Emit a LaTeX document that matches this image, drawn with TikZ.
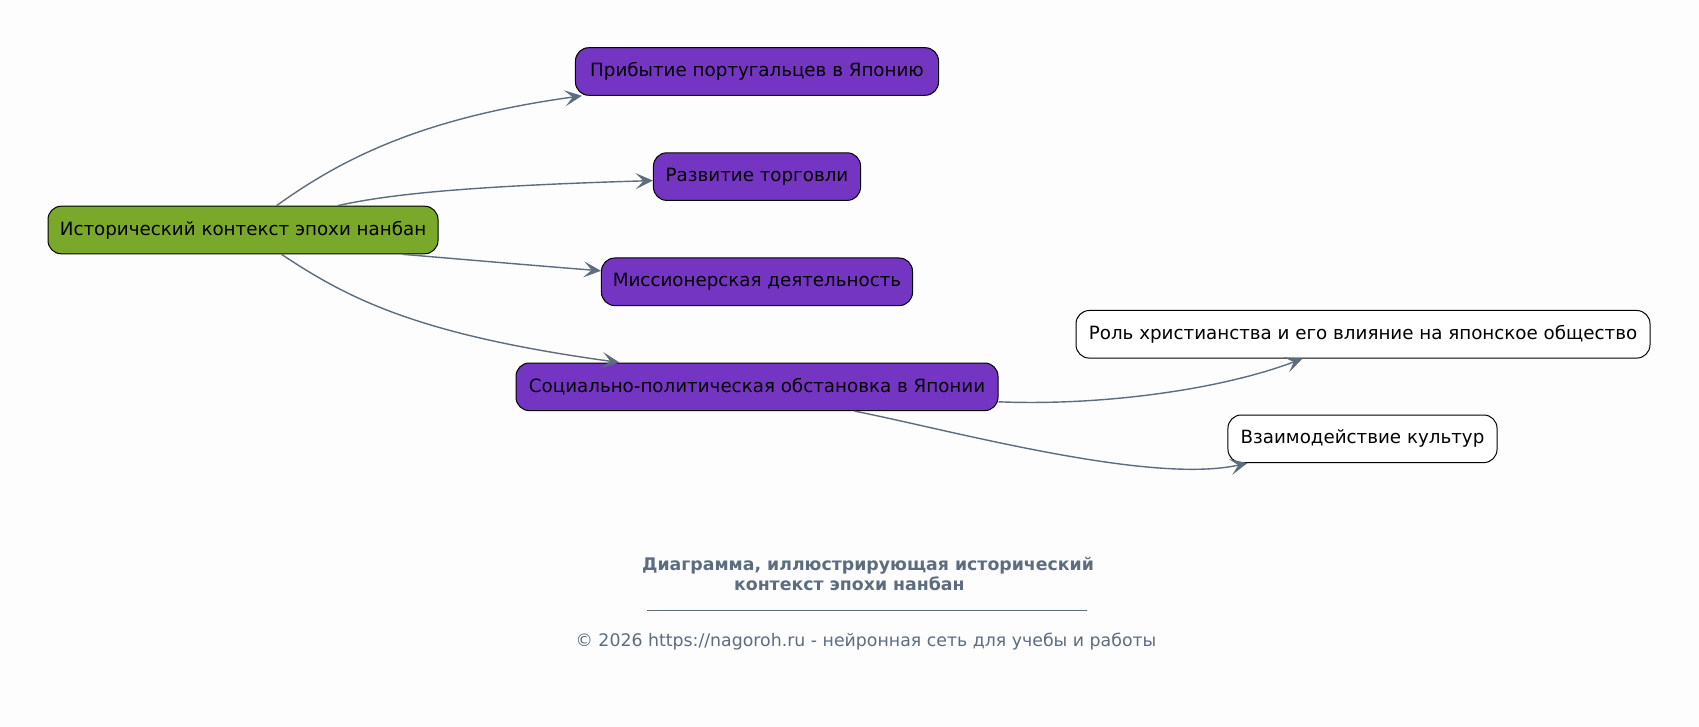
\documentclass[tikz,border=0pt]{standalone}
\usepackage{fontspec}
\setmainfont{DejaVu Sans}
\usetikzlibrary{arrows.meta,calc}
\definecolor{fond}{HTML}{FDFDFD}
\definecolor{violet}{HTML}{7435C2}
\definecolor{vert}{HTML}{7AA82B}
\definecolor{ardoise}{HTML}{5D6D7E}
\tikzset{
	noeud/.style={draw=black, line width=0.75pt, rounded corners=10pt, minimum height=35.7pt, inner xsep=7pt, font=\fontsize{13.7}{16.5}\selectfont},
	racine/.style={noeud, fill=vert},
	theme/.style={noeud, fill=violet},
	detail/.style={noeud, fill=white},
	lien/.style={draw=ardoise, line width=1.05pt, -{Stealth[length=13pt,width=12pt,inset=6pt]}}
}
\begin{document}
\begin{tikzpicture}[x=0.75pt, y=-0.75pt]
% fond
\path [fill=fond] (0,0) rectangle (1699,727);
\useasboundingbox (0,0) rectangle (1699,727);
	% les noeuds
	\node [racine, minimum width=292.5pt] (root) at (243, 230) {Исторический контекст эпохи нанбан};
	\node [theme, minimum width=272.3pt] (arrivee) at (757, 71.5) {Прибытие португальцев в Японию};
	\node [theme, minimum width=155.3pt] (commerce) at (757, 176.6) {Развитие торговли};
	\node [theme, minimum width=233.3pt] (mission) at (757, 281.8) {Миссионерская деятельность};
	\node [theme, minimum width=361.5pt] (societe) at (757, 386.8) {Социально-политическая обстановка в Японии};
	\node [detail, minimum width=430.5pt] (christ) at (1363, 334.3) {Роль христианства и его влияние на японское общество};
	\node [detail, minimum width=201.8pt] (culture) at (1362.5, 438.8) {Взаимодействие культур};
	% les liens
	\draw [lien] ($(root.north west)+(229,0)$) .. controls (340,160) and (420,118) .. ($(arrivee.south west)+(7,0)$);
	\draw [lien] ($(root.north west)+(290,0)$) .. controls (390,194) and (470,186) .. ($(commerce.west)+(0,4)$);
	\draw [lien] ($(root.south west)+(355,0)$) .. controls (470,260) and (540,266) .. ($(mission.west)+(0,-11)$);
	\draw [lien] ($(root.south west)+(234,0)$) .. controls (350,300) and (420,335) .. ($(societe.north west)+(104,0)$);
	\draw [lien] ($(societe.east)+(0,15)$) .. controls (1100,406) and (1220,390) .. ($(christ.south west)+(227,0)$);
	\draw [lien] ($(societe.south west)+(339,0)$) .. controls (950,430) and (1150,485) .. ($(culture.south west)+(20,0)$);
	% titre et pied
	\node [text=ardoise, align=center, font=\fontsize{13}{14.5}\selectfont\bfseries] (titre) at (868, 574) {Диаграмма, иллюстрирующая исторический\\контекст эпохи нанбан\hspace*{28pt}};
	\coordinate (trait0) at (647, 610);
	\coordinate (trait1) at (1087, 610);
	\draw [ardoise, line width=0.5pt] (trait0) -- (trait1);
	\node [text=ardoise, font=\fontsize{13}{15}\selectfont] (pied) at (866, 642) {© 2026 https://nagoroh.ru - нейронная сеть для учебы и работы};
\end{tikzpicture}
\end{document}
